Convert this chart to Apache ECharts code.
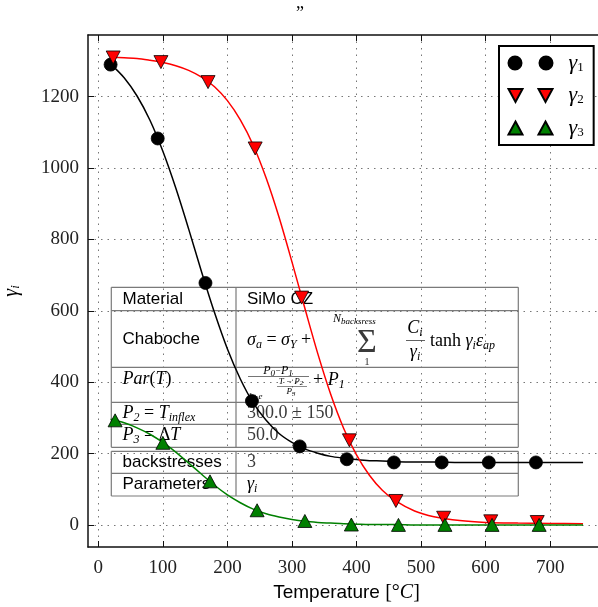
<!DOCTYPE html>
<html><head><meta charset="utf-8">
<script src="https://cdn.jsdelivr.net/npm/echarts@6/dist/echarts.min.js"></script>
<style>html,body{margin:0;padding:0;background:#fff}#c{width:598px;height:607px}</style>
</head><body><div id="c"></div>
<script>
// ---- data ----
const xTicks = [0, 100, 200, 300, 400, 500, 600, 700];
const yTicks = [0, 200, 400, 600, 800, 1000, 1200];

const seriesNames = ['γ1', 'γ2', 'γ3'];

// measured points (markers)
const g1X = [19, 92, 166, 238, 312, 385, 458, 532, 605, 678];
const g1Y = [1290, 1083, 678, 347, 220, 184, 175, 175, 175, 175];
const g2X = [23, 97, 170, 243, 315, 389, 461, 535, 608, 680];
const g2Y = [1310, 1297, 1241, 1055, 637, 237, 67, 20, 10, 8];
const g3X = [26, 100, 173, 246, 320, 392, 465, 537, 610, 683];
const g3Y = [293, 230, 122, 41, 11, 1, 0, 0, 0, 0];

// fitted curves
const curveT  = [19, 40, 60, 80, 100, 120, 140, 160, 180, 200, 220, 240, 260, 280, 300, 320, 340, 360, 380, 400, 420, 440, 460, 490, 520, 560, 600, 650, 700, 751];
const curve1 = [1292, 1253, 1202, 1134, 1047, 944, 829, 709, 595, 493, 409, 342, 293, 256, 231, 213, 201, 192, 187, 183, 180, 179, 177, 176, 176, 175, 175, 175, 175, 175];
const curve2 = [1311, 1309, 1307, 1302, 1296, 1287, 1274, 1255, 1228, 1189, 1135, 1064, 972, 862, 737, 607, 480, 366, 271, 196, 139, 97, 68, 39, 23, 12, 7, 5, 4, 3];
const curve3 = [296, 286, 272, 254, 231, 204, 173, 142, 111, 84, 62, 44, 31, 22, 15, 10, 7, 5, 3, 2, 1, 1, 1, 0, 0, 0, 0, 0, 0, 0];

// table content
const tableLeft = ['Material', 'Chaboche', '{mi|Par}{mn|(}{mi|T}{mn|)}', '{mi|P}{ms|2}{mn| = }{mi|T}{ms|inflex}', '{mi|P}{ms|3}{mn| = Δ}{mi|T}', 'backstresses', 'Parameters'];
const tableRight = ['SiMo CZ', '', '', '300.0 ± 150', '50.0', '3', '{mi|γ}{ms|i}'];

// ---- chart ----
const serif = 'Liberation Serif';
const sans = 'Liberation Sans';
const mathColor = '#3a3a3a';
const rich = {
  mi: {fontFamily: serif, fontStyle: 'italic', fontSize: 18, color: mathColor},
  mn: {fontFamily: serif, fontSize: 18, color: mathColor},
  ms: {fontFamily: serif, fontStyle: 'italic', fontSize: 12, color: mathColor, padding: [9, 0, 0, 0]},
  sm: {fontFamily: serif, fontStyle: 'italic', fontSize: 12, color: mathColor},
  ss: {fontFamily: serif, fontStyle: 'italic', fontSize: 9, color: mathColor, padding: [6, 0, 0, 0]},
  tn: {fontFamily: serif, fontStyle: 'italic', fontSize: 9, color: mathColor},
  ts: {fontFamily: serif, fontStyle: 'italic', fontSize: 7, color: mathColor, padding: [4, 0, 0, 0]}
};

const pairs = (xs, ys) => xs.map((x, i) => [x, ys[i]]);

const chart = echarts.init(document.getElementById('c'), null, {renderer: 'canvas'});

// table geometry
const tL = 111.3, tM = 236, tR = 518.3;
const rows1 = [287.3, 310.7, 367.3, 402.3, 424.3, 447.3];
const rows2 = [451.3, 473.3, 496];
const rowMid = [299, 339, 379, 413, 435, 462, 484];
const graphics = [];
const line = (x1, y1, x2, y2, c, w) => graphics.push({type: 'line', silent: true, z: 1, shape: {x1, y1, x2, y2}, style: {stroke: c || '#7a7a7a', lineWidth: w || 1.2}});
const text = (x, y, t, extra) => graphics.push({type: 'text', silent: true, z: 1, x, y, style: Object.assign({text: t, rich, fill: '#000', font: '17px ' + sans, verticalAlign: 'middle', align: 'left'}, extra || {})});
[rows1, rows2].forEach(rs => {
  rs.forEach(y => line(tL, y, tR, y));
  [tL, tM, tR].forEach(x => line(x, rs[0], x, rs[rs.length - 1]));
});
tableLeft.forEach((t, i) => text(122.5, rowMid[i], t));
tableRight.forEach((t, i) => { if (t) text(247, rowMid[i], t, /^[0-9]/.test(t) ? {font: '18px ' + serif, fill: mathColor} : {}); });
// Chaboche formula
text(247, 340, '{mi|σ}{ms|a}{mn| = }{mi|σ}{ms|Y}{mn| +}');
text(367, 343, 'Σ', {font: '34px ' + serif, fill: mathColor, align: 'center'});
text(333, 319, '{sm|N}{ss|backsress}');
text(367, 362, '1', {font: '11px ' + serif, fill: mathColor, align: 'center'});
text(415, 328, '{mi|C}{ms|i}', {align: 'center'});
line(406, 340.5, 425, 340.5, mathColor, 0.8);
text(415, 352, '{mi|γ}{ms|i}', {align: 'center'});
text(430, 341, '{mn|tanh }{mi|γ}{ms|i}{mi|ε}{ms|ap}');
// Par(T) formula
text(278, 371, '{sm|P}{ss|0}{tn|−}{sm|P}{ss|1}', {align: 'center'});
line(248, 376.5, 309, 376.5, mathColor, 0.7);
text(291, 381.5, '{tn|T − P}{ts|2}', {align: 'center'});
line(277, 386.5, 307, 386.5, mathColor, 0.6);
text(291, 392, '{tn|P}{ts|3}', {align: 'center'});
text(248, 397, '{tn|1+e}');
text(313, 380, '{mn|+ }{mi|P}{ms|1}');

const option = {
  animation: false,
  backgroundColor: '#fff',
  title: {text: '”', left: 291, top: 0, textStyle: {fontFamily: serif, fontSize: 18, fontWeight: 'normal', color: '#000'}},
  grid: {left: 88, top: 35, width: 517, height: 512, containLabel: false, outerBoundsMode: 'none'},
  legend: {
    left: 499, top: 46, orient: 'vertical',
    backgroundColor: '#fff', borderColor: '#000', borderWidth: 2, borderRadius: 0,
    padding: [6, 10, 6, 8.5], itemGap: 10.5, itemWidth: 44, itemHeight: 13,
    data: [
      {name: 'γ1', icon: 'path://M0,6.5A6.5,6.5,0,1,1,13,6.5A6.5,6.5,0,1,1,0,6.5ZM31,6.5A6.5,6.5,0,1,1,44,6.5A6.5,6.5,0,1,1,31,6.5Z'},
      {name: 'γ2', icon: 'path://M0,0L14,0L7,13ZM30,0L44,0L37,13Z'},
      {name: 'γ3', icon: 'path://M7,0L14,13L0,13ZM37,0L44,13L30,13Z'}
    ],
    formatter: n => '{g|γ}{s|' + n.slice(1) + '}',
    textStyle: {padding: [0, 0, 0, 11], lineHeight: 20, rich: {
      g: {fontFamily: serif, fontStyle: 'italic', fontSize: 22, color: '#000'},
      s: {fontFamily: serif, fontSize: 13, color: '#000', padding: [9, 0, 0, 0]}
    }}
  },
  xAxis: [{
    type: 'value', min: -16, max: 785, position: 'bottom',
    name: '{a|Temperature }{b|[°}{c|C}{b|]}', nameLocation: 'middle', nameGap: 36,
    nameTextStyle: {rich: {
      a: {fontFamily: sans, fontSize: 19, color: '#000'},
      b: {fontFamily: serif, fontSize: 20, color: '#000'},
      c: {fontFamily: serif, fontStyle: 'italic', fontSize: 20, color: '#000'}
    }},
    axisLine: {show: true, onZero: false, lineStyle: {color: '#111', width: 1.5}},
    axisTick: {show: true, inside: true, length: 6, customValues: xTicks, lineStyle: {color: '#111', width: 1}},
    axisLabel: {show: true, customValues: xTicks, formatter: v => String(v), margin: 12, fontFamily: serif, fontSize: 19, color: '#222'},
    splitLine: {show: true, lineStyle: {color: '#777', width: 1, type: [1.5, 5]}}
  }, {
    type: 'value', min: -16, max: 785, position: 'top',
    axisLine: {show: true, onZero: false, lineStyle: {color: '#111', width: 1.5}},
    axisTick: {show: true, inside: true, length: 6, customValues: xTicks, lineStyle: {color: '#111', width: 1}},
    axisLabel: {show: false},
    splitLine: {show: false}
  }],
  yAxis: [{
    type: 'value', min: -62, max: 1373,
    name: '{g|γ}{s|i}', nameLocation: 'middle', nameGap: 66, nameRotate: 90,
    nameTextStyle: {rich: {
      g: {fontFamily: serif, fontStyle: 'italic', fontSize: 20, color: '#000'},
      s: {fontFamily: serif, fontStyle: 'italic', fontSize: 13, color: '#000', padding: [8, 0, 0, 0]}
    }},
    axisLine: {show: true, onZero: false, lineStyle: {color: '#111', width: 1.5}},
    axisTick: {show: true, inside: true, length: 6, customValues: yTicks, lineStyle: {color: '#111', width: 1}},
    axisLabel: {show: true, customValues: yTicks, formatter: v => String(v), margin: 9, fontFamily: serif, fontSize: 19, color: '#222'},
    splitLine: {show: true, lineStyle: {color: '#777', width: 1, type: [1.5, 5]}}
  }],
  graphic: graphics,
  series: [
    {name: 'fit1', type: 'line', data: pairs(curveT, curve1), showSymbol: false, smooth: 0.3, z: 3, lineStyle: {color: '#000', width: 1.5}, silent: true},
    {name: 'fit2', type: 'line', data: pairs(curveT, curve2), showSymbol: false, smooth: 0.3, z: 3, lineStyle: {color: '#ff0000', width: 1.5}, silent: true},
    {name: 'fit3', type: 'line', data: pairs(curveT, curve3), showSymbol: false, smooth: 0.3, z: 3, lineStyle: {color: '#008000', width: 1.5}, silent: true},
    {name: 'γ1', type: 'scatter', data: pairs(g1X, g1Y), symbol: 'circle', symbolSize: 13, z: 4, itemStyle: {color: '#000', borderColor: '#000', borderWidth: 0.8, opacity: 1}},
    {name: 'γ2', type: 'scatter', data: pairs(g2X, g2Y), symbol: 'triangle', symbolRotate: 180, symbolSize: [14, 13], z: 4, itemStyle: {color: '#ff0000', borderColor: '#000', borderWidth: 0.8, opacity: 1}},
    {name: 'γ3', type: 'scatter', data: pairs(g3X, g3Y), symbol: 'triangle', symbolSize: [14, 13], z: 4, itemStyle: {color: '#008000', borderColor: '#000', borderWidth: 0.8, opacity: 1}}
  ]
};
chart.setOption(option);
</script></body></html>
